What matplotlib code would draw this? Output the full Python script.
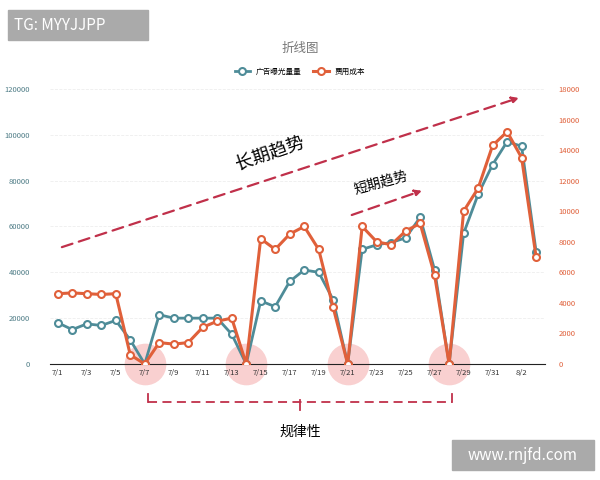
import matplotlib.pyplot as plt
from matplotlib.lines import Line2D
from matplotlib.patches import Rectangle
import numpy as np

plt.rcParams['font.family'] = ['Noto Sans CJK SC', 'DejaVu Sans']

dates = ['7/1', '7/2', '7/3', '7/4', '7/5', '7/6', '7/7', '7/8', '7/9', '7/10', '7/11', '7/12',
         '7/13', '7/14', '7/15', '7/16', '7/17', '7/18', '7/19', '7/20', '7/21', '7/22', '7/23',
         '7/24', '7/25', '7/26', '7/27', '7/28', '7/29', '7/30', '7/31', '8/1', '8/2', '8/3']
exposure = [18000, 15000, 17500, 16800, 19000, 10500, 0, 21500, 20000, 20000, 20000, 20000,
            13000, 0, 27500, 25000, 36000, 41000, 40000, 28000, 0, 50000, 52000, 53000, 55000,
            64000, 41000, 0, 57000, 74000, 87000, 97000, 95000, 49000]
cost = [4600, 4650, 4600, 4550, 4600, 600, 0, 1400, 1300, 1400, 2400, 2800, 3000, 0, 8200,
        7500, 8500, 9000, 7500, 3700, 0, 9000, 8000, 7800, 8700, 9200, 5800, 0, 10000, 11500,
        14300, 15200, 13500, 7000]
cycle_days = [6, 13, 20, 27]

blue = '#4e8c98'
orange = '#e0603a'
x = np.arange(len(dates))

fig = plt.figure(figsize=(6, 4.8), dpi=100)
ax = fig.add_axes([0.083, 0.2417, 0.825, 0.573])
ax2 = ax.twinx()

ax.plot(x, exposure, color=blue, lw=2, marker='o', ms=5, mfc='white', mew=1.5, label='广告曝光量量', zorder=3)
ax2.plot(x, cost, color=orange, lw=2.2, marker='o', ms=5, mfc='white', mew=1.5, label='费用成本', zorder=4)

ax.set_xlim(-0.55, 33.6)
ax.set_ylim(0, 120000)
ax2.set_ylim(0, 18000)
ax.set_yticks(range(0, 120001, 20000))
ax2.set_yticks(range(0, 18001, 2000))
ax.set_xticks(x[::2])
ax.set_xticklabels(dates[::2])
ax.tick_params(axis='both', length=0, labelsize=5.5)
ax.tick_params(axis='y', colors='#4e7c86', pad=14)
ax.tick_params(axis='x', colors='#333333')
ax2.tick_params(axis='y', length=0, labelsize=5.5, colors=orange, pad=10)
for a in (ax, ax2):
    for s in a.spines.values():
        s.set_visible(False)
ax.spines['bottom'].set_visible(True)
ax.spines['bottom'].set_color('#222222')
ax.grid(axis='y', color='#eeeeee', lw=0.6, ls='--')

# cycle markers
ax.scatter(cycle_days, [0] * len(cycle_days), s=900, color='#f08a8a', alpha=0.4, clip_on=False, zorder=1, lw=0)

# trend arrows
ax.annotate('', xy=(32, 116500), xytext=(0.1, 50600),
            arrowprops=dict(arrowstyle='-|>', color='#c0304a', lw=1.6, ls=(0, (5, 3))), zorder=5)
ax.annotate('', xy=(25.3, 76000), xytext=(20.1, 64600),
            arrowprops=dict(arrowstyle='-|>', color='#c0304a', lw=1.6, ls=(0, (5, 3))), zorder=5)
ax.text(14.6, 92000, '长期趋势', fontsize=13, rotation=19, ha='center', va='center')
ax.text(22.3, 79000, '短期趋势', fontsize=10, rotation=15, ha='center', va='center')

# bracket
yb = 1 - 402 / 480
fig.add_artist(Line2D([148 / 600, 452 / 600], [yb, yb], color='#c0304a', lw=1.3, ls=(0, (5, 3))))
fig.add_artist(Line2D([148 / 600, 148 / 600], [yb, yb + 8 / 480], color='#c0304a', lw=1.3))
fig.add_artist(Line2D([452 / 600, 452 / 600], [yb, yb + 8 / 480], color='#c0304a', lw=1.3))
fig.add_artist(Line2D([300 / 600, 300 / 600], [yb - 8 / 480, yb + 2 / 480], color='#c0304a', lw=1.3))
fig.text(0.5, 1 - 432 / 480, '规律性', fontsize=10, ha='center', va='center')

fig.text(0.5, 1 - 48 / 480, '折线图', fontsize=9, color='#777777', ha='center', va='center')
h1, l1 = ax.get_legend_handles_labels()
h2, l2 = ax2.get_legend_handles_labels()
fig.legend(h1 + h2, l1 + l2, loc='center', bbox_to_anchor=(0.5, 1 - 72 / 480), ncol=2,
           frameon=False, fontsize=5.5, handlelength=2, columnspacing=1.5)

# watermarks
fig.add_artist(Rectangle((8 / 600, 1 - 40 / 480), 140 / 600, 30 / 480, color='#aaaaaa', transform=fig.transFigure))
fig.text(14 / 600, 1 - 25 / 480, 'TG: MYYJJPP', fontsize=11, color='white', va='center')
fig.add_artist(Rectangle((452 / 600, 1 - 470 / 480), 142 / 600, 30 / 480, color='#aaaaaa', transform=fig.transFigure))
fig.text(523 / 600, 1 - 455 / 480, 'www.rnjfd.com', fontsize=11, color='white', va='center', ha='center')

fig.savefig('out.png', dpi=100)
